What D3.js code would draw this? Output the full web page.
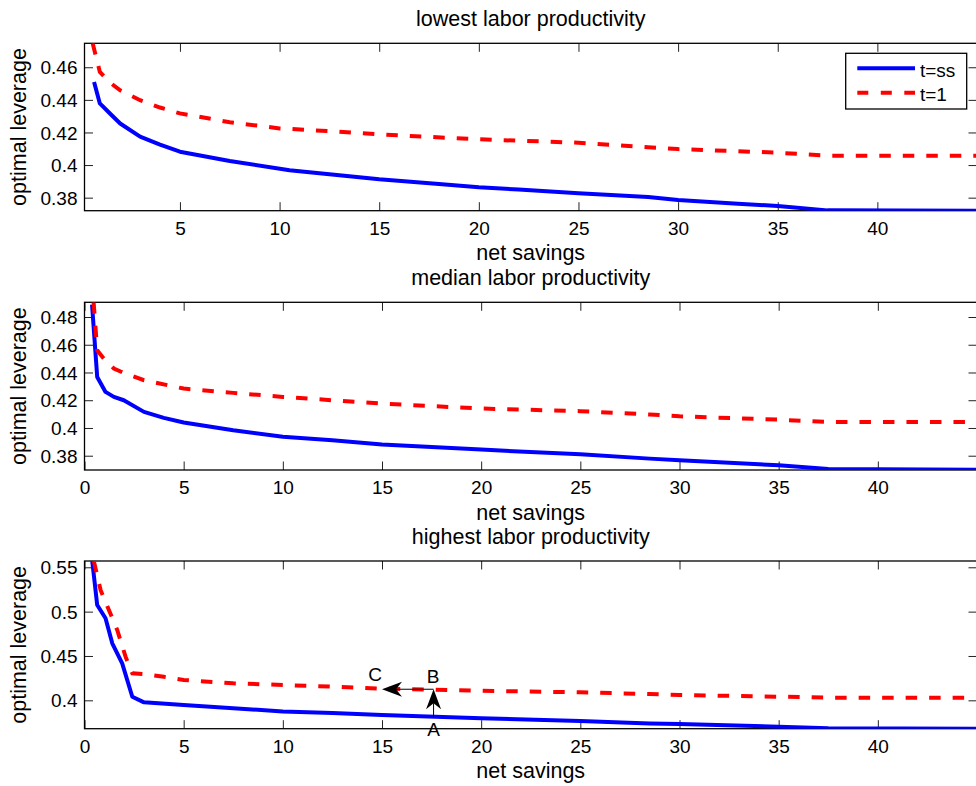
<!DOCTYPE html>
<html>
<head>
<meta charset="utf-8">
<script src="https://cdn.jsdelivr.net/npm/d3@7"></script>
<style>
  html, body { margin: 0; padding: 0; background: #fff; }
  svg { display: block; }
  text { font-family: "Liberation Sans", Arial, Helvetica, sans-serif; fill: #000; }
</style>
</head>
<body>
<svg id="chart" width="976" height="786"></svg>
<script>
// ---------------- data ----------------
const panelTitles = ["lowest labor productivity", "median labor productivity", "highest labor productivity"];
const xLabel = "net savings";
const yLabel = "optimal leverage";
const legendLabels = ["t=ss", "t=1"];

// lowest labor productivity
const lowSavingsSS  = [0.69, 0.98, 1.5, 2.0, 3.0, 4.0, 5.0, 7.5, 10.5, 12.5, 15, 18, 20, 22, 25, 28.5, 30, 33, 35, 37.5, 45];
const lowLeverageSS = [0.451, 0.4378, 0.4315, 0.4255, 0.4174, 0.4125, 0.4082, 0.4025, 0.3968, 0.3944, 0.3913, 0.3884, 0.3864, 0.3850, 0.3827, 0.3804, 0.3786, 0.3763, 0.3749, 0.3722, 0.3720];
const lowSavingsT1  = [0.62, 0.98, 1.5, 2.0, 3.0, 4.0, 5.0, 7.5, 10, 12.5, 15, 20, 25, 28.5, 30, 35, 37.5, 45];
const lowLeverageT1 = [0.4747, 0.4571, 0.4505, 0.4458, 0.4398, 0.4353, 0.4317, 0.4263, 0.4225, 0.4208, 0.4188, 0.4158, 0.4137, 0.4109, 0.4098, 0.4076, 0.4057, 0.4057];

// median labor productivity
const medSavingsSS  = [0.38, 0.64, 1.06, 1.48, 1.98, 3.0, 4.0, 5.0, 7.5, 10, 12.5, 15, 20, 25, 28.5, 30, 35, 37.5, 45];
const medLeverageSS = [0.489, 0.4368, 0.426, 0.4224, 0.420, 0.4116, 0.4073, 0.4039, 0.3983, 0.3936, 0.3911, 0.3880, 0.3844, 0.3810, 0.3779, 0.3767, 0.3731, 0.3705, 0.3699];
const medSavingsT1  = [0.46, 0.64, 1.0, 1.48, 2.0, 3.0, 5.0, 7.5, 10, 12.5, 15, 20, 25, 28.5, 30, 35, 37.5, 45];
const medLeverageT1 = [0.4906, 0.4561, 0.4495, 0.4429, 0.4395, 0.4344, 0.4284, 0.4253, 0.4224, 0.4200, 0.4176, 0.4140, 0.4121, 0.4097, 0.4084, 0.4060, 0.4043, 0.4043];

// highest labor productivity
const highSavingsSS  = [0.39, 0.64, 1.06, 1.4, 1.9, 2.41, 3.0, 5.0, 7.5, 10, 12.5, 15, 20, 25, 28.5, 30, 35, 37.5, 45];
const highLeverageSS = [0.557, 0.5075, 0.4925, 0.4643, 0.4417, 0.404, 0.3977, 0.3947, 0.391, 0.3875, 0.3858, 0.3834, 0.3797, 0.3766, 0.3740, 0.3733, 0.3702, 0.3684, 0.368];
const highSavingsT1  = [0.47, 0.81, 1.23, 1.65, 2.07, 2.41, 3.0, 4.0, 5.0, 7.5, 10, 12.5, 15, 20, 25, 28.5, 30, 35, 37.5, 45];
const highLeverageT1 = [0.557, 0.5244, 0.5018, 0.4793, 0.4492, 0.4305, 0.4297, 0.4265, 0.4229, 0.4192, 0.4173, 0.4154, 0.4131, 0.4108, 0.4090, 0.4071, 0.4060, 0.4041, 0.4030, 0.4030];

// axis domains and ticks
const xDomains = [[0.21, 45], [0, 45], [0, 45]];
const yDomains = [[0.372, 0.4747], [0.3697, 0.4906], [0.368, 0.5571]];
const xTickValues = [[5, 10, 15, 20, 25, 30, 35, 40], [0, 5, 10, 15, 20, 25, 30, 35, 40], [0, 5, 10, 15, 20, 25, 30, 35, 40]];
const yTickValues = [[0.38, 0.40, 0.42, 0.44, 0.46], [0.38, 0.40, 0.42, 0.44, 0.46, 0.48], [0.40, 0.45, 0.50, 0.55]];

// annotation (bottom panel): A -> B (vertical), B -> C (horizontal)
const annotLabels = ["A", "B", "C"];
const annotSavings = [17.6, 17.6, 15.0];
const annotLeverage = [0.3805, 0.4125, 0.4125];

// ---------------- layout ----------------
const svg = d3.select("#chart");
const left = 84.5, right = 977;
const panelBox = [[43.3, 210.7], [302.3, 470], [561, 728.7]];
const BLUE = "#0000ff", RED = "#ff0000";
const tickFont = "19px", labelFont = "21.5px";
const tickLen = 8.5;

const seriesSS = [
  d3.zip(lowSavingsSS, lowLeverageSS),
  d3.zip(medSavingsSS, medLeverageSS),
  d3.zip(highSavingsSS, highLeverageSS)
];
const seriesT1 = [
  d3.zip(lowSavingsT1, lowLeverageT1),
  d3.zip(medSavingsT1, medLeverageT1),
  d3.zip(highSavingsT1, highLeverageT1)
];

const fmt = v => String(+v.toFixed(4));

let bottomScales = null;

panelTitles.forEach((title, i) => {
  const [top, bottom] = panelBox[i];
  const x = d3.scaleLinear().domain(xDomains[i]).range([left, right]);
  const y = d3.scaleLinear().domain(yDomains[i]).range([bottom, top]);
  if (i === 2) bottomScales = {x, y};
  const g = svg.append("g");

  const clipId = "clip" + i;
  svg.append("clipPath").attr("id", clipId)
    .append("rect").attr("x", left).attr("y", top)
    .attr("width", right - left).attr("height", bottom - top);

  // axes (ticks inward on all sides)
  const xb = g.append("g").attr("transform", `translate(0,${bottom})`)
    .call(d3.axisBottom(x).tickValues(xTickValues[i]).tickSize(-tickLen).tickPadding(11).tickFormat(fmt));
  const xt = g.append("g").attr("transform", `translate(0,${top})`)
    .call(d3.axisTop(x).tickValues(xTickValues[i]).tickSize(-tickLen).tickFormat(""));
  const yl = g.append("g").attr("transform", `translate(${left},0)`)
    .call(d3.axisLeft(y).tickValues(yTickValues[i]).tickSize(-tickLen).tickPadding(7).tickFormat(fmt));
  const yr = g.append("g").attr("transform", `translate(${right},0)`)
    .call(d3.axisRight(y).tickValues(yTickValues[i]).tickSize(-tickLen).tickFormat(""));

  [xb, xt, yl, yr].forEach(a => {
    a.select(".domain").remove();
    a.selectAll(".tick line").attr("stroke", "#222").attr("stroke-width", 1);
    a.selectAll("text").style("font-size", tickFont).attr("fill", "#000")
      .style("font-family", '"Liberation Sans", Arial, Helvetica, sans-serif');
  });
  xb.selectAll("text").attr("dy", "0.71em").attr("y", 11);
  yl.selectAll("text").attr("dy", "0.35em");

  // box
  g.append("rect").attr("x", left).attr("y", top)
    .attr("width", right - left).attr("height", bottom - top)
    .attr("fill", "none").attr("stroke", "#000").attr("stroke-width", 1.3);

  const line = d3.line().x(d => x(d[0])).y(d => y(d[1]));

  g.append("path").datum(seriesSS[i]).attr("clip-path", `url(#${clipId})`)
    .attr("d", line).attr("fill", "none").attr("stroke", BLUE)
    .attr("stroke-width", 4).attr("stroke-linejoin", "round");
  g.append("path").datum(seriesT1[i]).attr("clip-path", `url(#${clipId})`)
    .attr("d", line).attr("fill", "none").attr("stroke", RED)
    .attr("stroke-width", 4).attr("stroke-dasharray", "11.5,12");

  // title and labels
  const cx = (left + right) / 2;
  g.append("text").attr("x", cx).attr("y", top - 17).attr("text-anchor", "middle")
    .style("font-size", labelFont).text(title);
  g.append("text").attr("x", cx).attr("y", bottom + 49.5).attr("text-anchor", "middle")
    .style("font-size", labelFont).text(xLabel);
  g.append("text").attr("transform", `translate(25.5,${(top + bottom) / 2}) rotate(-90)`)
    .attr("text-anchor", "middle").style("font-size", labelFont).text(yLabel);
});

// ---------------- legend (top panel) ----------------
const lg = svg.append("g");
lg.append("rect").attr("x", 845.7).attr("y", 53.3).attr("width", 121).attr("height", 55.7)
  .attr("fill", "#fff").attr("stroke", "#000").attr("stroke-width", 1.3);
lg.append("line").attr("x1", 857.3).attr("x2", 915).attr("y1", 68.3).attr("y2", 68.3)
  .attr("stroke", BLUE).attr("stroke-width", 4);
lg.append("line").attr("x1", 857.3).attr("x2", 915).attr("y1", 92.7).attr("y2", 92.7)
  .attr("stroke", RED).attr("stroke-width", 4).attr("stroke-dasharray", "11,12.5");
lg.append("text").attr("x", 920).attr("y", 76.5).style("font-size", tickFont).text(legendLabels[0]);
lg.append("text").attr("x", 920).attr("y", 100.7).style("font-size", tickFont).text(legendLabels[1]);

// ---------------- annotation arrows ----------------
{
  const {x, y} = bottomScales;
  const ax = x(annotSavings[0]), ay = y(annotLeverage[0]);
  const bx = x(annotSavings[1]), by = y(annotLeverage[1]);
  const cxp = x(annotSavings[2]), cy = y(annotLeverage[2]);
  const ag = svg.append("g");
  const L = 20, Wd = 15, notch = 14;
  function arrow(x1, y1, x2, y2) {
    const ang = Math.atan2(y2 - y1, x2 - x1);
    const len = Math.hypot(x2 - x1, y2 - y1);
    const gg = ag.append("g").attr("transform", `translate(${x2},${y2}) rotate(${ang * 180 / Math.PI})`);
    gg.append("line").attr("x1", -len).attr("y1", 0).attr("x2", -notch).attr("y2", 0)
      .attr("stroke", "#000").attr("stroke-width", 1);
    gg.append("path").attr("d", `M0,0 L${-L},${Wd / 2} L${-notch},0 L${-L},${-Wd / 2} Z`)
      .attr("fill", "#000");
  }
  arrow(ax, ay, bx, by);
  arrow(bx, by, cxp, cy);
  ag.append("text").attr("x", ax).attr("y", ay + 18).attr("text-anchor", "middle")
    .style("font-size", tickFont).text(annotLabels[0]);
  ag.append("text").attr("x", bx - 0.5).attr("y", by - 6).attr("text-anchor", "middle")
    .style("font-size", tickFont).text(annotLabels[1]);
  ag.append("text").attr("x", cxp - 7).attr("y", cy - 8.5).attr("text-anchor", "middle")
    .style("font-size", tickFont).text(annotLabels[2]);
}
</script>
</body>
</html>
